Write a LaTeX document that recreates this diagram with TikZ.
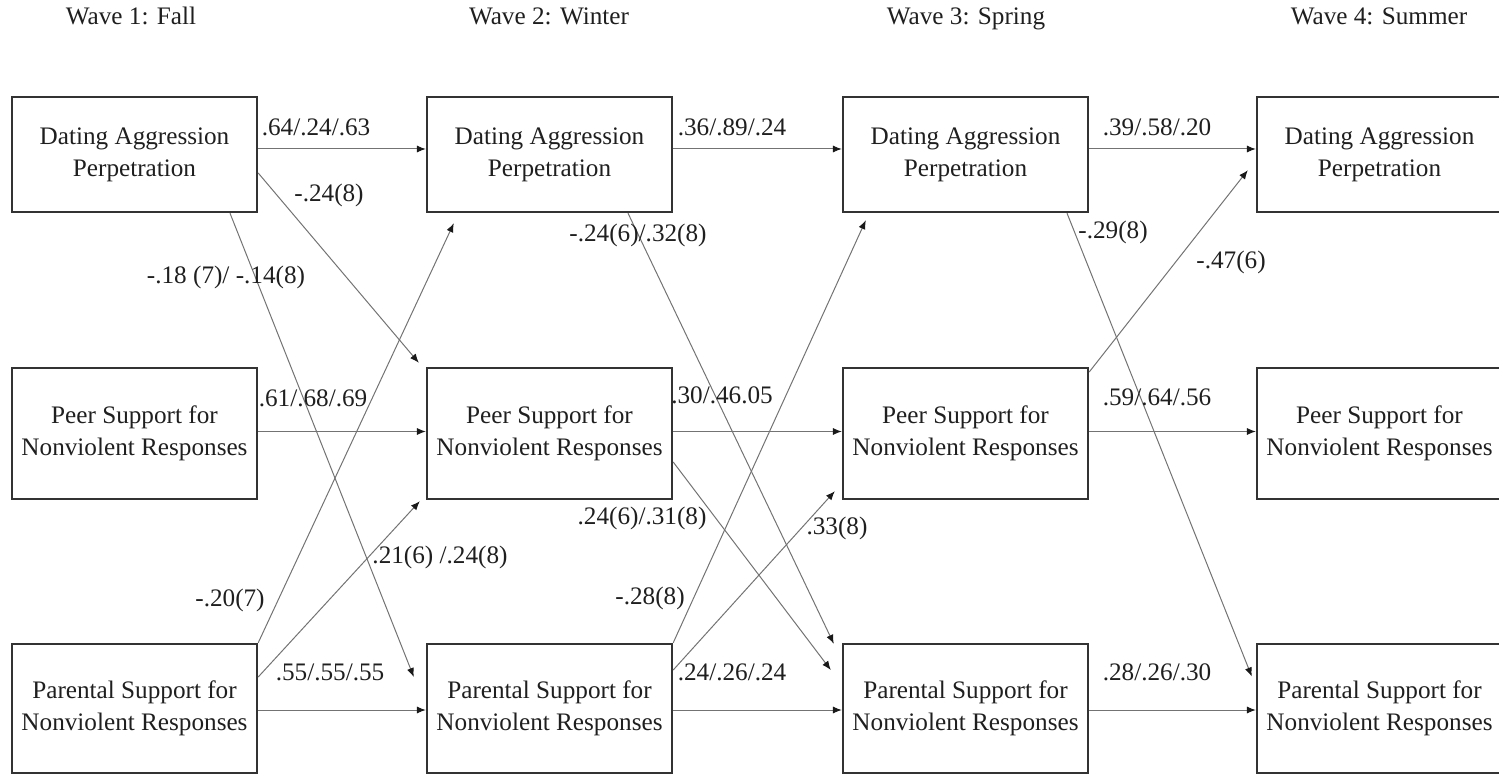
\documentclass[tikz,border=0pt]{standalone}
\usepackage{fontspec}
\setmainfont{Liberation Serif}
\usetikzlibrary{arrows.meta}
\begin{document}
\begin{tikzpicture}[x=0.5pt,y=-0.5pt,
  every node/.style={text=black!88},
  box/.style={draw=black!80, line width=1.2pt, align=center, inner sep=0pt,
    font=\fontsize{12.6}{16}\selectfont, minimum width=122.5pt},
  boxA/.style={box, minimum height=57.5pt},
  boxB/.style={box, minimum height=65.5pt},
  boxC/.style={box, minimum height=64.5pt},
  lbl/.style={inner sep=0pt, font=\fontsize{12.6}{15}\selectfont},
  head/.style={inner sep=0pt, anchor=base, font=\fontsize{12.6}{15}\selectfont},
  link/.style={draw=black!55, line width=0.5pt,
    -{Latex[length=4.5pt,width=3.6pt,color=black!90,fill=black!90]}},
]
\useasboundingbox (0,0) rectangle (1499,775);

% wave headings
\node[head] (h1) at (131,25) {Wave 1: Fall};
\node[head] (h2) at (549,25) {Wave 2: Winter};
\node[head] (h3) at (966,25) {Wave 3: Spring};
\node[head] (h4) at (1379,25) {Wave 4: Summer};

% constructs per wave: a = dating aggression, p = peer support, r = parental support
\foreach \i/\x in {1/134.5, 2/549.5, 3/965.5, 4/1379.5} {
  \node[boxA] (a\i) at (\x,154.5) {Dating Aggression\\Perpetration};
  \node[boxB] (p\i) at (\x,433.5) {Peer Support for\\Nonviolent Responses};
  \node[boxC] (r\i) at (\x,708.5) {Parental Support for\\Nonviolent Responses};
}

% stability paths
\foreach \i/\j in {1/2, 2/3, 3/4} {
  \draw[link] ([yshift=2.75pt]a\i.east) -- ([yshift=2.75pt]a\j.west);
  \draw[link] ([yshift=1pt]p\i.east) -- ([yshift=1pt]p\j.west);
  \draw[link] ([yshift=-0.75pt]r\i.east) -- ([yshift=-0.75pt]r\j.west);
}

% cross-lagged paths, wave 1 to wave 2
\draw[link] ([yshift=-9.25pt]a1.east) -- ([xshift=-3.5pt,yshift=2pt]p2.north west);
\draw[link] ([xshift=47.75pt]a1.south) -- ([xshift=-6pt,yshift=15.75pt]r2.west);
\draw[link] (r1.north east) -- ([xshift=14pt,yshift=-5pt]a2.south west);
\draw[link] ([yshift=15.75pt]r1.east) -- ([xshift=-3pt,yshift=-0.5pt]p2.south west);

% cross-lagged paths, wave 2 to wave 3
\draw[link] ([xshift=39.25pt]a2.south) -- ([xshift=-4pt,yshift=-0.5pt]r3.north west);
\draw[link] ([yshift=-14.25pt]p2.east) -- ([xshift=-5.5pt,yshift=19.25pt]r3.west);
\draw[link] (r2.north east) -- ([xshift=12pt,yshift=-3.5pt]a3.south west);
\draw[link] ([yshift=19.25pt]r2.east) -- ([xshift=-3.5pt,yshift=4.5pt]p3.south west);

% cross-lagged paths, wave 3 to wave 4
\draw[link] ([xshift=50.75pt]a3.south) -- ([xshift=-2pt,yshift=16pt]r4.west);
\draw[link] ([yshift=30.75pt]p3.east) -- ([xshift=-4pt,yshift=21.5pt]a4.south west);

% path coefficients
\node[lbl] (c1)  at (316,127) {.64/.24/.63};
\node[lbl] (c2)  at (329,195) {-.24(8)};
\node[lbl] (c3)  at (226,277) {-.18 (7)/ -.14(8)};
\node[lbl] (c4)  at (313,398) {.61/.68/.69};
\node[lbl] (c5)  at (230,600) {-.20(7)};
\node[lbl] (c6)  at (440,557) {.21(6) /.24(8)};
\node[lbl] (c7)  at (330,672) {.55/.55/.55};
\node[lbl] (c8)  at (732,127) {.36/.89/.24};
\node[lbl] (c9)  at (638,235) {-.24(6)/.32(8)};
\node[lbl] (c10) at (722,395) {.30/.46.05};
\node[lbl] (c11) at (642,518) {.24(6)/.31(8)};
\node[lbl] (c12) at (837,528) {.33(8)};
\node[lbl] (c13) at (650,598) {-.28(8)};
\node[lbl] (c14) at (732,672) {.24/.26/.24};
\node[lbl] (c15) at (1157,127) {.39/.58/.20};
\node[lbl] (c16) at (1113,232) {-.29(8)};
\node[lbl] (c17) at (1231,262) {-.47(6)};
\node[lbl] (c18) at (1157,397) {.59/.64/.56};
\node[lbl] (c19) at (1157,672) {.28/.26/.30};
\end{tikzpicture}
\end{document}
